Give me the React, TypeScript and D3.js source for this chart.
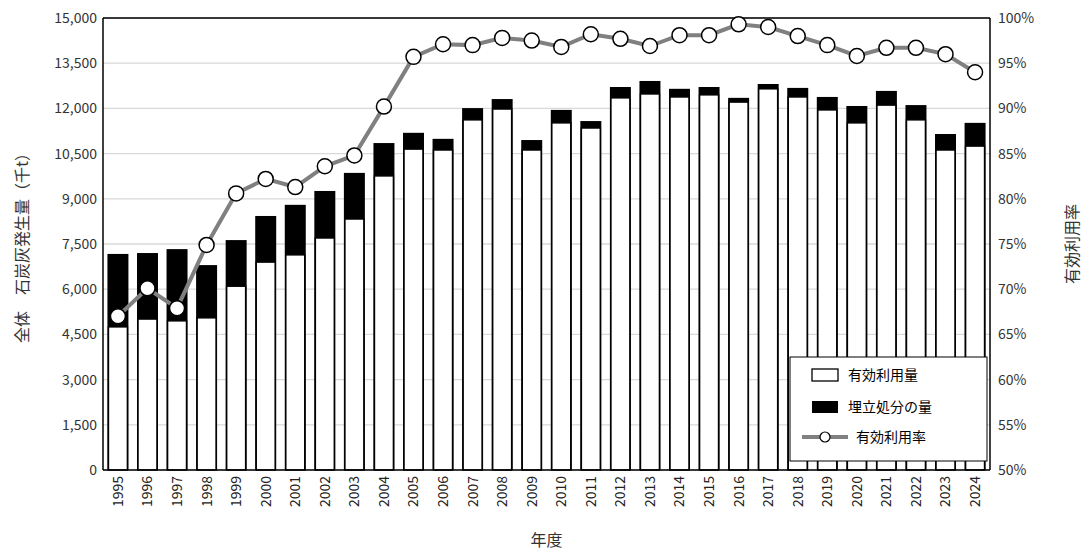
import React from 'react';
import * as d3 from 'd3';

const years = d3.range(1995, 2025).map(String);
const totals = [7170, 7200, 7330, 6800, 7630, 8430, 8800, 9260, 9860, 10850, 11190, 10990, 12010, 12310, 10950, 11950, 11580, 12710, 12910, 12650, 12710, 12350, 12810, 12680, 12380, 12080, 12580, 12110, 11150, 11520];
const effective = [4750, 5010, 4950, 5050, 6100, 6900, 7140, 7700, 8330, 9760, 10650, 10620, 11620, 11980, 10620, 11520, 11350, 12350, 12480, 12380, 12450, 12210, 12650, 12380, 11950, 11520, 12110, 11620, 10620, 10750];
const rate = [67.0, 70.1, 67.9, 74.9, 80.6, 82.2, 81.3, 83.6, 84.8, 90.2, 95.7, 97.1, 97.0, 97.8, 97.5, 96.8, 98.2, 97.7, 96.9, 98.1, 98.1, 99.3, 99.0, 98.0, 97.0, 95.8, 96.7, 96.7, 96.0, 94.0];
const leftTicks = d3.range(0, 15001, 1500);
const rightTicks = d3.range(50, 101, 5);

const W = 1085, H = 559;
const m = { left: 103, right: 990, top: 18, bottom: 470 };
const font = "'Noto Sans CJK JP', sans-serif";

export default function App() {
  const x = d3.scaleBand().domain(years).range([m.left, m.right]).paddingInner(0.29).paddingOuter(0.15);
  const y = d3.scaleLinear().domain([0, 15000]).range([m.bottom, m.top]);
  const y2 = d3.scaleLinear().domain([50, 100]).range([m.bottom, m.top]);
  const cx = (i: number) => x(years[i])! + x.bandwidth() / 2;
  const line = d3.line<number>().x((_, i) => cx(i)).y((d) => y2(d));

  return (
    <svg width={W} height={H} style={{ position: 'fixed', left: 0, top: 0, background: '#fff' }} fontFamily={font}>
      {leftTicks.map((t) => (
        <g key={t}>
          <line x1={m.left} x2={m.right} y1={y(t)} y2={y(t)} stroke="#d9d9d9" strokeWidth={1.3} />
          <text x={m.left - 6} y={y(t)} dy="0.35em" textAnchor="end" fontSize={14} fill="#333">{d3.format(',')(t)}</text>
        </g>
      ))}
      {rightTicks.map((t) => (
        <text key={t} x={m.right + 8} y={y2(t)} dy="0.35em" fontSize={14} fill="#333">{t}%</text>
      ))}
      {years.map((yr, i) => (
        <g key={yr}>
          <rect x={x(yr)} y={y(totals[i])} width={x.bandwidth()} height={y(0) - y(totals[i])} fill="#000" />
          <rect x={x(yr)! + 1} y={y(effective[i])} width={x.bandwidth() - 2} height={y(0) - y(effective[i])} fill="#fff" stroke="#000" strokeWidth={1.5} />
          <text transform={`translate(${cx(i)},${m.bottom + 6}) rotate(-90)`} dy="0.35em" textAnchor="end" fontSize={14} fill="#222">{yr}</text>
        </g>
      ))}
      <line x1={m.left} x2={m.left} y1={m.top} y2={m.bottom} stroke="#000" strokeWidth={1.5} />
      <line x1={m.right} x2={m.right} y1={m.top} y2={m.bottom} stroke="#000" strokeWidth={1.5} />
      <line x1={m.left} x2={m.right} y1={m.top} y2={m.top} stroke="#000" strokeWidth={1.5} />
      <line x1={m.left} x2={m.right} y1={m.bottom} y2={m.bottom} stroke="#000" strokeWidth={1.5} />
      <path d={line(rate)!} fill="none" stroke="#808080" strokeWidth={4} />
      {rate.map((r, i) => (
        <circle key={i} cx={cx(i)} cy={y2(r)} r={7.5} fill="#fff" stroke="#000" strokeWidth={1.5} />
      ))}
      <g transform="translate(790,357)">
        <rect width={197} height={104} fill="#fff" stroke="#000" strokeWidth={1} />
        <rect x={22} y={12} width={26} height={12} fill="#fff" stroke="#000" strokeWidth={1.3} />
        <text x={58} y={18} dy="0.35em" fontSize={14}>有効利用量</text>
        <rect x={22} y={44} width={26} height={12} fill="#000" />
        <text x={58} y={50} dy="0.35em" fontSize={14}>埋立処分の量</text>
        <line x1={12} x2={58} y1={80} y2={80} stroke="#808080" strokeWidth={4} />
        <circle cx={35} cy={80} r={5} fill="#fff" stroke="#000" strokeWidth={1.2} />
        <text x={66} y={80} dy="0.35em" fontSize={14}>有効利用率</text>
      </g>
      <text transform={`translate(22,${(m.top + m.bottom) / 2}) rotate(-90)`} textAnchor="middle" dy="0.35em" fontSize={16} fill="#333">全体　石炭灰発生量（千t）</text>
      <text transform={`translate(1072,${(m.top + m.bottom) / 2}) rotate(-90)`} textAnchor="middle" dy="0.35em" fontSize={16} fill="#333">有効利用率</text>
      <text x={(m.left + m.right) / 2} y={546} textAnchor="middle" fontSize={16} fill="#333">年度</text>
    </svg>
  );
}
